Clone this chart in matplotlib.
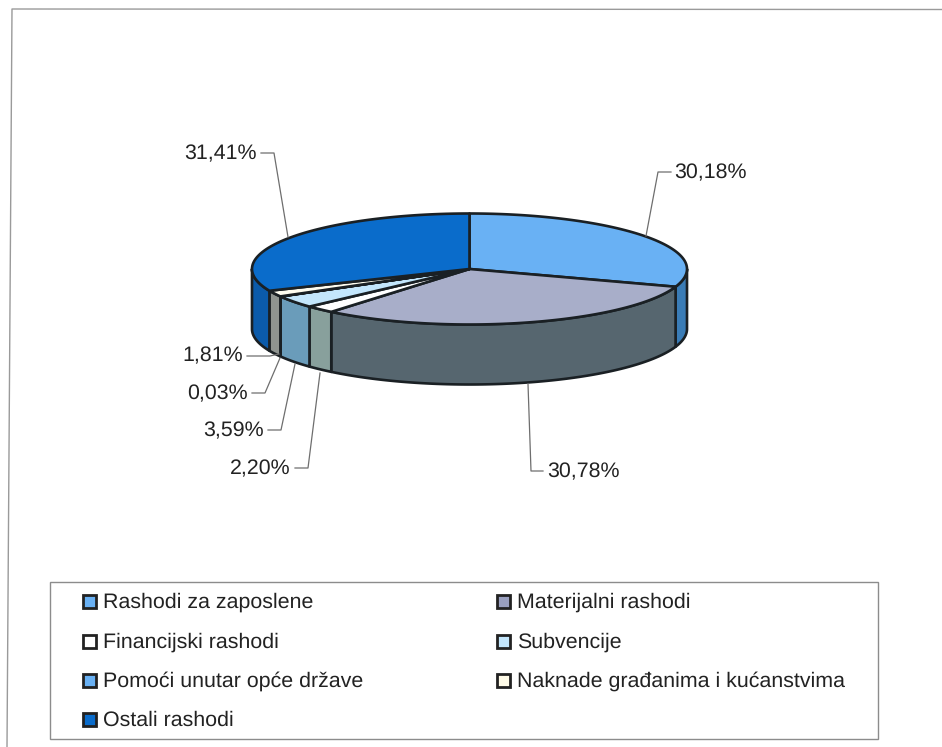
import numpy as np
import matplotlib
matplotlib.use('Agg')
import matplotlib.pyplot as plt
from matplotlib.patches import Rectangle

plt.rcParams['font.family'] = ['Liberation Sans', 'DejaVu Sans']
plt.rcParams['text.hinting'] = 'no_hinting'

# slices, clockwise from 12 o'clock
categories = ["Rashodi za zaposlene", "Materijalni rashodi", "Financijski rashodi", "Subvencije",
              "Pomoći unutar opće države", "Naknade građanima i kućanstvima", "Ostali rashodi"]
shares = [30.18, 30.78, 2.20, 3.59, 0.03, 1.81, 31.41]

top_colors = ["#69b1f4", "#a8aec9", "#ffffff", "#c3e6fc", "#69b1f4", "#fffdf0", "#0a6ccb"]
side_colors = ["#3a7cb6", "#56666f", "#88a09c", "#6a9cba", "#3a7cb6", "#8f9490", "#0b5bab"]
legend_colors = ["#69b1f4", "#9aa0c0", "#ffffff", "#c3e6fc", "#69b1f4", "#fffbe8", "#0a6ccb"]

cx, cy, rx, ry, depth = 469.5, 269.0, 217.5, 55.5, 60.0
edge = "#1a2024"
leader = "#6e6e6e"


def rim(a0, a1, dy=0.0):
    t = np.radians(np.linspace(a0, a1, 120))
    return cx + rx * np.sin(t), cy - ry * np.cos(t) + dy


def draw_pie(ax):
    ends = np.cumsum(shares) * 3.6
    starts = ends - np.array(shares) * 3.6
    for a0, a1, col in zip(starts, ends, side_colors):
        lo, hi = max(a0, 90), min(a1, 270)
        if hi <= lo:
            continue
        x, y = rim(lo, hi)
        xb, yb = rim(lo, hi, depth)
        ax.fill(np.r_[x, xb[::-1]], np.r_[y, yb[::-1]], facecolor=col, edgecolor=edge, lw=1.9, joinstyle='round')
    for a0, a1, col in zip(starts, ends, top_colors):
        x, y = rim(a0, a1)
        ax.fill(np.r_[cx, x], np.r_[cy, y], facecolor=col, edgecolor=edge, lw=1.9, joinstyle='round')


def draw_labels(ax):
    texts = [("%.2f%%" % v).replace('.', ',') for v in shares]
    # text anchor + leader path for each slice
    spots = [(674, 173, 'left', [(671, 172), (658, 172), (646, 236)]),
             (547, 472, 'left', [(543, 471), (531, 471), (528, 384)]),
             (291, 469, 'right', [(295, 468), (308, 468), (320, 373)]),
             (264, 431, 'right', [(268, 430), (281, 430), (295, 364)]),
             (248, 394, 'right', [(252, 393), (265, 393), (280, 358)]),
             (243, 356, 'right', [(247, 356), (270, 356), (279, 354)]),
             (257, 154, 'right', [(261, 153), (274, 153), (288, 237)])]
    for txt, (x, y, ha, path) in zip(texts, spots):
        ax.text(x, y, txt, fontsize=15.4, color="#222222", ha=ha, va='center')
        ax.plot(*zip(*path), color=leader, lw=0.9)


def draw_legend(ax):
    ax.add_patch(Rectangle((49.5, 582), 828.5, 156.5, fc='white', ec="#8c8c8c", lw=1.0))
    rows = [601, 641, 680, 719]
    cols = [(83, 103), (497, 517)]
    order = [(0, 0), (1, 0), (0, 1), (1, 1), (0, 2), (1, 2), (0, 3)]
    for name, col, (c, r) in zip(categories, legend_colors, order):
        ax.add_patch(Rectangle((cols[c][0], rows[r] - 6.5), 13, 13, fc=col, ec="#222222", lw=2.0))
        ax.text(cols[c][1], rows[r] + 1, name, fontsize=15.4, color="#222222", ha='left', va='center')


if __name__ == '__main__':
    fig = plt.figure(figsize=(9.42, 7.47), dpi=100)
    ax = fig.add_axes([0, 0, 1, 1])
    ax.set_xlim(0, 942)
    ax.set_ylim(747, 0)
    ax.axis('off')
    # page frame of the scan
    ax.plot([942, 12, 7], [9.5, 9, 747], color="#9a9a9a", lw=1.0)
    draw_pie(ax)
    draw_labels(ax)
    draw_legend(ax)
    fig.savefig("out.png", dpi=100)
